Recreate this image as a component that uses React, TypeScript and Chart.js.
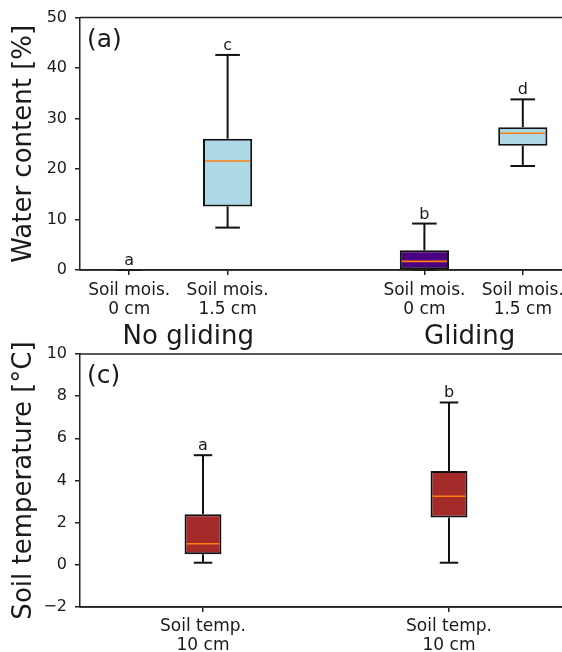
import React, { useEffect, useRef } from "react";
import { Chart, registerables } from "chart.js";

Chart.register(...registerables);

// ---------- Panel (a): water content ----------
const moistPositions = [1, 2, 4, 5];
const moistTickLabels = [
  ["Soil mois.", "0 cm"],
  ["Soil mois.", "1.5 cm"],
  ["Soil mois.", "0 cm"],
  ["Soil mois.", "1.5 cm"],
];
const moistMin = [0, 8.4, 0, 20.6];
const moistQ1 = [0, 12.6, 0, 24.6];
const moistMedian = [0, 21.6, 1.7, 27.1];
const moistQ3 = [0, 26.0, 3.9, 28.3];
const moistMax = [0, 42.6, 9.2, 33.8];
const moistLetters = ["a", "c", "b", "d"];
const moistColors = ["#ADD8E6", "#ADD8E6", "#4B0082", "#ADD8E6"];
const groupLabels = ["No gliding", "Gliding"];
const groupPositions = [1.6, 4.46];

// ---------- Panel (c): soil temperature ----------
const tempPositions = [1, 2];
const tempTickLabels = [
  ["Soil temp.", "10 cm"],
  ["Soil temp.", "10 cm"],
];
const tempMin = [0.1, 0.1];
const tempQ1 = [0.5, 2.25];
const tempMedian = [1.0, 3.25];
const tempQ3 = [2.4, 4.45];
const tempMax = [5.2, 7.7];
const tempLetters = ["a", "b"];
const tempColors = ["#A52A2A", "#A52A2A"];

const FONT = "'DejaVu Sans', sans-serif";
const INK = "#1a1a1a";
const EDGE = "#111111";
const SPINE = "#222222";
const MEDIAN = "#FF7F0E";

Chart.defaults.font.family = FONT;
Chart.defaults.color = INK;

type BoxCfg = {
  positions: number[];
  min: number[];
  q1: number[];
  median: number[];
  q3: number[];
  max: number[];
  letters: string[];
  colors: string[];
  tickLabels: string[][];
  widthUnits: number;
  xMax: number;
  yMin: number;
  yMax: number;
  yStep: number;
  yTitle: string;
  panelLabel: string;
  groups?: { labels: string[]; positions: number[]; baseline: number };
  padTop: number;
  xHeight: number;
  tickPad: number;
};

function makeConfig(c: BoxCfg): any {
  const extras = {
    id: "boxExtras",
    afterDatasetsDraw(chart: any) {
      const { ctx, chartArea } = chart;
      const xs = chart.scales.x;
      const ys = chart.scales.y;
      ctx.save();
      const seg = (x1: number, y1: number, x2: number, y2: number) => {
        ctx.beginPath();
        ctx.moveTo(x1, y1);
        ctx.lineTo(x2, y2);
        ctx.stroke();
      };
      c.positions.forEach((p, i) => {
        const cx = xs.getPixelForValue(p);
        const half = xs.getPixelForValue(p + c.widthUnits / 2) - cx;
        const cap = half / 2;
        ctx.strokeStyle = EDGE;
        ctx.lineWidth = 2;
        const yMaxP = ys.getPixelForValue(c.max[i]);
        const yMinP = ys.getPixelForValue(c.min[i]);
        seg(cx, ys.getPixelForValue(c.q3[i]), cx, yMaxP);
        seg(cx, ys.getPixelForValue(c.q1[i]), cx, yMinP);
        seg(cx - cap, yMaxP, cx + cap, yMaxP);
        seg(cx - cap, yMinP, cx + cap, yMinP);
        // median (hidden under the spine when the box is degenerate)
        if (c.q3[i] > c.q1[i]) {
          ctx.strokeStyle = MEDIAN;
          ctx.lineWidth = 1.6;
          const ym = ys.getPixelForValue(c.median[i]);
          seg(cx - half + 2, ym, cx + half - 2, ym);
        }
        // letter
        ctx.fillStyle = INK;
        ctx.font = `16px ${FONT}`;
        ctx.textAlign = "center";
        ctx.textBaseline = "alphabetic";
        ctx.fillText(c.letters[i], cx, yMaxP - 5);
      });
      // spines on top (top + bottom)
      ctx.strokeStyle = SPINE;
      ctx.lineWidth = 1.5;
      seg(chartArea.left, chartArea.top, chartArea.right, chartArea.top);
      seg(chartArea.left, chartArea.bottom, chartArea.right, chartArea.bottom);
      // panel label
      ctx.fillStyle = INK;
      ctx.font = `25px ${FONT}`;
      ctx.textAlign = "left";
      ctx.textBaseline = "alphabetic";
      ctx.fillText(c.panelLabel, chartArea.left + 7, chartArea.top + 29);
      // group labels
      if (c.groups) {
        ctx.font = `26px ${FONT}`;
        ctx.textAlign = "center";
        c.groups.labels.forEach((g, i) => {
          ctx.fillText(g, xs.getPixelForValue(c.groups!.positions[i]), c.groups!.baseline);
        });
      }
      ctx.restore();
    },
  };

  return {
    type: "bar",
    data: {
      datasets: [
        {
          data: c.positions.map((p, i) => ({ x: p, y: [c.q1[i], c.q3[i]] })),
          backgroundColor: c.colors,
          borderColor: EDGE,
          borderWidth: 2,
          borderSkipped: false,
          barPercentage: 1,
          categoryPercentage: c.widthUnits,
        },
      ],
    },
    options: {
      responsive: false,
      animation: false,
      events: [],
      layout: { padding: { top: c.padTop, left: 0, right: 6, bottom: 0 } },
      plugins: { legend: { display: false }, tooltip: { enabled: false } },
      scales: {
        x: {
          type: "linear",
          min: 0.5,
          max: c.xMax,
          offset: false,
          afterBuildTicks: (axis: any) => {
            axis.ticks = c.positions.map((v) => ({ value: v }));
          },
          afterFit: (axis: any) => {
            axis.height = c.xHeight;
          },
          grid: {
            offset: false,
            drawOnChartArea: false,
            drawTicks: true,
            tickLength: 5,
            color: SPINE,
            lineWidth: 1.5,
          },
          border: { display: true, color: SPINE, width: 1.5 },
          ticks: {
            autoSkip: false,
            maxRotation: 0,
            minRotation: 0,
            padding: c.tickPad,
            color: INK,
            font: { size: 17, lineHeight: 1.12, family: FONT },
            callback: (v: number) => {
              const idx = c.positions.indexOf(v);
              return idx >= 0 ? c.tickLabels[idx] : "";
            },
          },
        },
        y: {
          type: "linear",
          min: c.yMin,
          max: c.yMax,
          afterFit: (axis: any) => {
            axis.width = 80;
          },
          grid: {
            drawOnChartArea: false,
            drawTicks: true,
            tickLength: 5,
            color: SPINE,
            lineWidth: 1.5,
          },
          border: { display: true, color: SPINE, width: 1.5 },
          title: {
            display: true,
            text: c.yTitle,
            color: INK,
            font: { size: 26, family: FONT, lineHeight: 1.2 },
            padding: { top: 9, bottom: 0 },
          },
          ticks: {
            stepSize: c.yStep,
            padding: 8,
            color: INK,
            font: { size: 16, family: FONT },
            callback: (v: number) => (v < 0 ? "\u2212" + Math.abs(v) : String(v)),
          },
        },
      },
    },
    plugins: [extras],
  };
}

const topCfg: BoxCfg = {
  positions: moistPositions,
  min: moistMin,
  q1: moistQ1,
  median: moistMedian,
  q3: moistQ3,
  max: moistMax,
  letters: moistLetters,
  colors: moistColors,
  tickLabels: moistTickLabels,
  widthUnits: 0.5,
  xMax: 5.5,
  yMin: 0,
  yMax: 50,
  yStep: 10,
  yTitle: "Water content [%]",
  panelLabel: "(a)",
  groups: { labels: groupLabels, positions: groupPositions, baseline: 344 },
  padTop: 17,
  xHeight: 86,
  tickPad: 6,
};

const bottomCfg: BoxCfg = {
  positions: tempPositions,
  min: tempMin,
  q1: tempQ1,
  median: tempMedian,
  q3: tempQ3,
  max: tempMax,
  letters: tempLetters,
  colors: tempColors,
  tickLabels: tempTickLabels,
  widthUnits: 0.15,
  xMax: 2.5,
  yMin: -2,
  yMax: 10,
  yStep: 2,
  yTitle: "Soil temperature [\u00B0C]",
  panelLabel: "(c)",
  padTop: 24,
  xHeight: 45,
  tickPad: 5,
};

function BoxPanel({ cfg, top, height }: { cfg: BoxCfg; top: number; height: number }) {
  const ref = useRef<HTMLCanvasElement | null>(null);
  useEffect(() => {
    if (!ref.current) return;
    const chart = new Chart(ref.current, makeConfig(cfg));
    return () => chart.destroy();
  }, [cfg]);
  return (
    <canvas
      ref={ref}
      width={578}
      height={height}
      style={{ position: "absolute", left: 0, top, display: "block" }}
    />
  );
}

export default function App() {
  return (
    <div
      style={{
        position: "fixed",
        left: 0,
        top: 0,
        width: 562,
        height: 652,
        overflow: "hidden",
        background: "#ffffff",
      }}
    >
      <BoxPanel cfg={topCfg} top={0} height={356} />
      <BoxPanel cfg={bottomCfg} top={330} height={322} />
    </div>
  );
}
